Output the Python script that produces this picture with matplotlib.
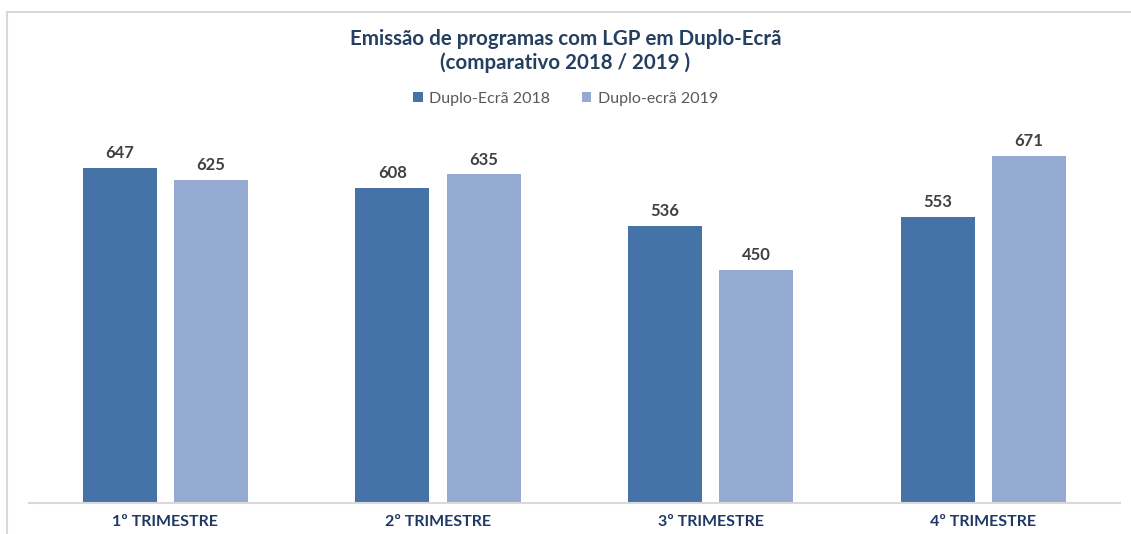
import matplotlib.pyplot as plt
import numpy as np

categories = ["1º TRIMESTRE", "2º TRIMESTRE", "3º TRIMESTRE", "4º TRIMESTRE"]
series_names = ["Duplo-Ecrã 2018", "Duplo-ecrã 2019"]
values_2018 = [647, 608, 536, 553]
values_2019 = [625, 635, 450, 671]

colors = ["#4573A7", "#95AAD1"]
plt.rcParams["font.family"] = ["Lato", "DejaVu Sans"]

fig = plt.figure(figsize=(11.31, 5.34), dpi=100)
ax = fig.add_axes([0.0256, 0.0586, 0.9644, 0.726])

x = np.arange(len(categories))
w = 0.271
off = 0.1675
b1 = ax.bar(x - off, values_2018, w, color=colors[0], label=series_names[0])
b2 = ax.bar(x + off, values_2019, w, color=colors[1], label=series_names[1])

for bars in (b1, b2):
    for b in bars:
        ax.annotate(str(int(b.get_height())), (b.get_x() + b.get_width() / 2, b.get_height()),
                    xytext=(0, 5), textcoords="offset points", ha="center", va="bottom",
                    fontsize=12, fontweight="bold", color="#404040")

ax.set_xlim(-0.5, 3.5)
ax.set_ylim(0, 750)
ax.set_xticks(x)
ax.set_xticklabels(categories, fontsize=11.5, fontweight="bold", color="#1F3864")
ax.tick_params(axis="x", length=0, pad=9)
ax.set_yticks([])
for s in ["top", "right", "left"]:
    ax.spines[s].set_visible(False)
ax.spines["bottom"].set_color("#D9D9D9")
ax.spines["bottom"].set_linewidth(1.5)

fig.text(0.5, 0.905, "Emissão de programas com LGP em Duplo-Ecrã\n(comparativo 2018 / 2019 )",
         ha="center", va="center", fontsize=14.8, fontweight="bold", color="#243F60",
         linespacing=1.2)

fig.legend(loc="center", bbox_to_anchor=(0.5, 0.815), ncol=2, frameon=False,
           fontsize=11.5, handlelength=0.6, handleheight=0.6, columnspacing=2.0,
           handletextpad=0.4, labelcolor="#595959")

# outer frame
fig.add_artist(plt.Rectangle((0.0065, -0.1), 1.1, 1.078, transform=fig.transFigure,
                             fill=False, edgecolor="#D9D9D9", linewidth=1.5))

fig.savefig("out.png", dpi=100)
